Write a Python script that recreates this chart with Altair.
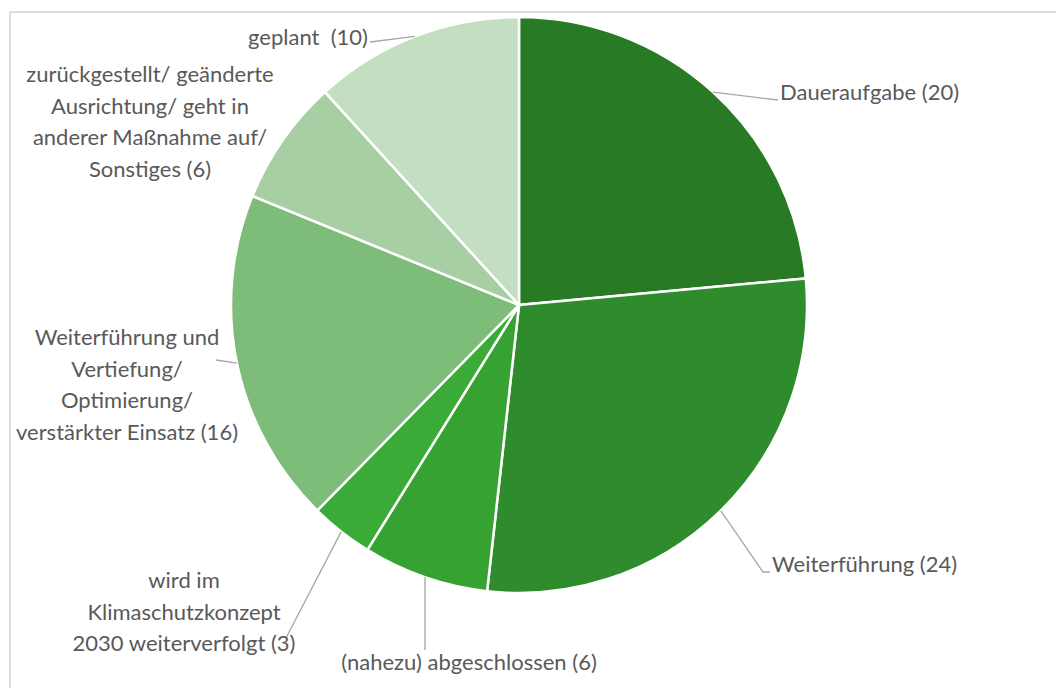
import math
import altair as alt
import pandas as pd

# ---- data ----
categories = [
    "Daueraufgabe",
    "Weiterführung",
    "(nahezu) abgeschlossen",
    "wird im Klimaschutzkonzept 2030 weiterverfolgt",
    "Weiterführung und Vertiefung/ Optimierung/ verstärkter Einsatz",
    "zurückgestellt/ geänderte Ausrichtung/ geht in anderer Maßnahme auf/ Sonstiges",
    "geplant",
]
values = [20, 24, 6, 3, 16, 6, 10]
colors = ["#287a24", "#2f8c2c", "#36a232", "#3bab37", "#7dbc79", "#a7cfa3", "#c3dec0"]
label_texts = [
    "Daueraufgabe (20)",
    "Weiterführung (24)",
    "(nahezu) abgeschlossen (6)",
    "wird im\nKlimaschutzkonzept\n2030 weiterverfolgt (3)",
    "Weiterführung und\nVertiefung/\nOptimierung/\nverstärkter Einsatz (16)",
    "zurückgestellt/ geänderte\nAusrichtung/ geht in\nanderer Maßnahme auf/\nSonstiges (6)",
    "geplant\u00a0 (10)",
]

# ---- layout (annotation placement, not data) ----
W, H = 1056, 688
CX, CY, R = 519, 305, 288
FONT = "Lato"
FS = 22
TXT = "#595959"
# position of the first line of each label
label_pos = [(780, 93), (772, 565), (469, 663), (184, 581), (127, 338), (150, 75), (368, 38)]
label_align = ["left", "left", "center", "center", "center", "center", "right"]
# leader-line bend/end points after the start on the slice edge
leader_tail = [
    [(778, 100)],
    [(763, 572), (770, 572)],
    [(425, 650)],
    [(286, 638)],
    [(216, 360)],
    None,
    [(370, 42)],
]

df = pd.DataFrame({"cat": categories, "value": values, "order": list(range(len(values)))})

pie = alt.Chart(df).mark_arc(
    outerRadius=R, stroke="white", strokeWidth=2.5, x=CX, y=CY
).encode(
    theta=alt.Theta("value:Q", stack=True),
    order=alt.Order("order:Q"),
    color=alt.Color("cat:N", scale=alt.Scale(domain=categories, range=colors), legend=None),
)

# leader lines start at the middle of each slice's outer edge
total = sum(values)
rows = []
cum = 0
for i, v in enumerate(values):
    a = 2 * math.pi * (cum + v / 2) / total
    cum += v
    if leader_tail[i] is None:
        continue
    pts = [(CX + R * math.sin(a), CY - R * math.cos(a))] + leader_tail[i]
    for k, (px, py) in enumerate(pts):
        rows.append({"grp": i, "k": k, "px": px, "py": py})
lines_df = pd.DataFrame(rows)
leaders = alt.Chart(lines_df).mark_line(color="#a6a6a6", strokeWidth=1.3).encode(
    x=alt.X("px:Q", scale=None),
    y=alt.Y("py:Q", scale=None),
    detail="grp:N",
    order="k:Q",
)

lab_df = pd.DataFrame({
    "text": label_texts,
    "lx": [p[0] for p in label_pos],
    "ly": [p[1] for p in label_pos],
    "align": label_align,
})
text_layers = []
for al in ["left", "center", "right"]:
    text_layers.append(
        alt.Chart(lab_df).transform_filter(alt.datum.align == al).mark_text(
            align=al, baseline="middle", font=FONT, fontSize=FS, color=TXT,
            lineBreak="\n", lineHeight=31.5,
        ).encode(
            x=alt.X("lx:Q", scale=None),
            y=alt.Y("ly:Q", scale=None),
            text="text:N",
        )
    )

frame_v = alt.Chart(df).mark_rule(color="#dcdcdc", strokeWidth=2).encode(
    x=alt.value(10), y=alt.value(12), y2=alt.value(H)
)
frame_h = alt.Chart(df).mark_rule(color="#dcdcdc", strokeWidth=2).encode(
    x=alt.value(10), x2=alt.value(W), y=alt.value(12)
)

chart = alt.layer(frame_v, frame_h, pie, leaders, *text_layers).properties(
    width=W, height=H, autosize=alt.AutoSizeParams(type="none"), padding=0,
    background="white",
).configure_view(stroke=None)

chart.save("out.html", embed_options={"renderer": "svg", "actions": False})
